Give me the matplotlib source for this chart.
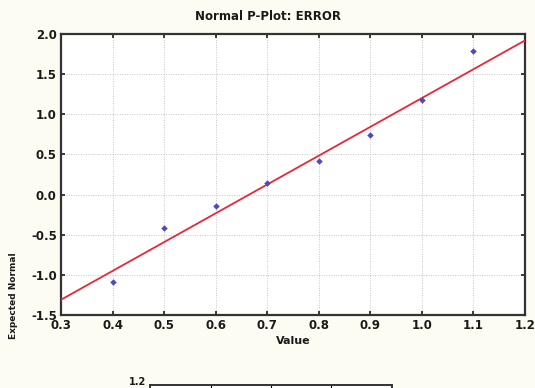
import matplotlib
matplotlib.use("Agg")
import matplotlib.pyplot as plt
import numpy as np

# Data
values = [0.4, 0.5, 0.6, 0.7, 0.8, 0.9, 1.0, 1.1]
expected = [-1.085, -0.42, -0.14, 0.14, 0.42, 0.74, 1.18, 1.79]
line_x = [0.3, 1.2]
line_y = [-1.31, 1.92]
xticks = [0.3, 0.4, 0.5, 0.6, 0.7, 0.8, 0.9, 1.0, 1.1, 1.2]
xticklabels = ["0.3", "0.4", "0.5", "0.6", "0.7", "0.8", "0.9", "1.0", "1.1", "1.2"]
yticks = [-1.5, -1.0, -0.5, 0.0, 0.5, 1.0, 1.5, 2.0]
yticklabels = ["-1.5", "-1.0", "-0.5", "0.0", "0.5", "1.0", "1.5", "2.0"]

W, H = 535, 388
bg = "#fcfcf2"
fig = plt.figure(figsize=(W / 100, H / 100), dpi=100, facecolor=bg)

L, R, T, B = 61, 525, 34, 315
ax = fig.add_axes([L / W, 1 - B / H, (R - L) / W, (B - T) / H])
ax.set_facecolor("white")
ax.plot(line_x, line_y, color="#e8283a", lw=1.3, zorder=3)
ax.scatter(values, expected, marker="D", s=11, color="#4a4ac8", zorder=4, linewidths=0)
ax.set_xlim(0.3, 1.2)
ax.set_ylim(-1.5, 2.0)
ax.set_xticks(xticks)
ax.set_xticklabels(xticklabels)
ax.set_yticks(yticks)
ax.set_yticklabels(yticklabels)
ax.grid(True, color="#c4c4c4", lw=0.7, linestyle=(0, (1, 1.5)))
ax.tick_params(direction="in", length=3, width=1.2, top=True, right=True,
               labelsize=8.5, colors="#1a1a1a", pad=3)
for lab in ax.get_xticklabels() + ax.get_yticklabels():
    lab.set_fontweight("bold")
for s in ax.spines.values():
    s.set_linewidth(1.6)
    s.set_color("#333333")

fig.text(268 / W, 1 - 17 / H, "Normal P-Plot: ERROR", ha="center", va="center",
         fontsize=8.5, fontweight="bold", color="#1a1a1a")
ax.set_xlabel("Value", fontsize=8, fontweight="bold", color="#1a1a1a", labelpad=3)
fig.text(14 / W, 1 - 296 / H, "Expected Normal", rotation=90, ha="center", va="center",
         fontsize=6.5, fontweight="bold", color="#1a1a1a")

# Partially visible second chart at the bottom
ax2 = fig.add_axes([150 / W, (H - 385 - 100) / H, 242 / W, 100 / H])
ax2.set_facecolor("white")
ax2.set_xlim(0, 4)
ax2.set_ylim(0, 1.2)
ax2.set_yticks([])
ax2.set_xticks([1, 2, 3])
ax2.tick_params(axis="x", direction="in", length=3, top=True, bottom=False, labelbottom=False)
for s in ax2.spines.values():
    s.set_linewidth(1.4)
    s.set_color("#333333")
fig.text(146 / W, 1 - 382 / H, "1.2", ha="right", va="center",
         fontsize=7, fontweight="bold", color="#1a1a1a")

fig.savefig("out.png", dpi=100, facecolor=bg)
